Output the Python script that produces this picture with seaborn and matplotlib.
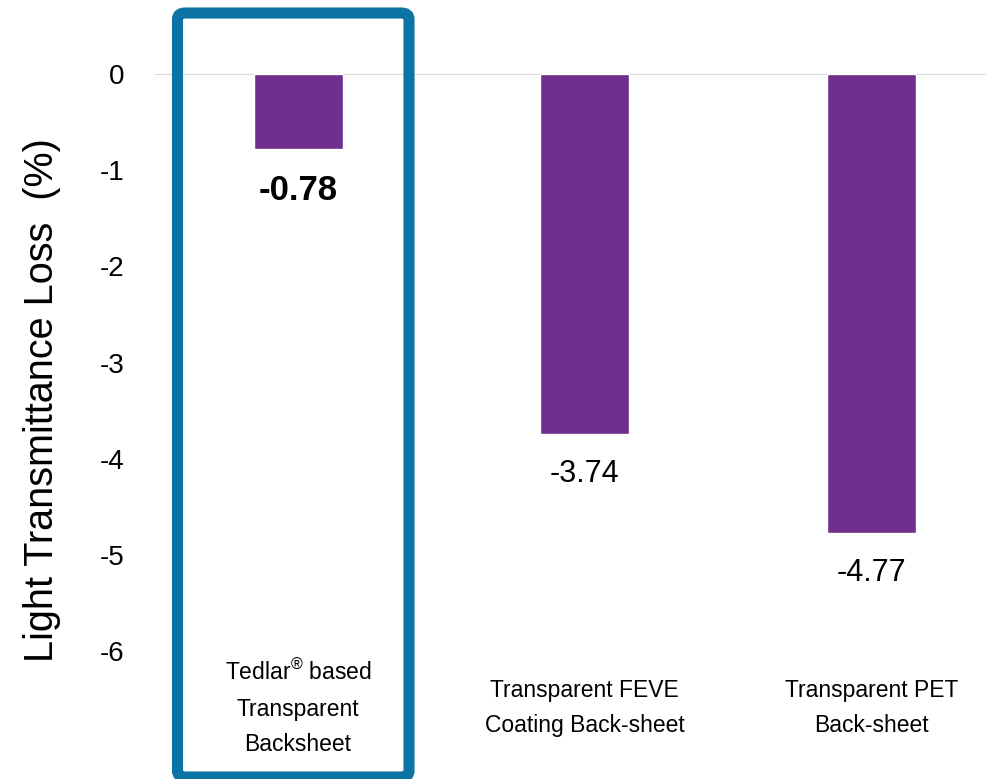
"""
light transmittance loss by backsheet type
"""
import matplotlib
matplotlib.use("Agg")
import matplotlib.pyplot as plt
from matplotlib.patches import FancyBboxPatch
import seaborn as sns
import pandas as pd

# data
categories = ["Tedlar$^{®}$ based\nTransparent\nBacksheet",
              "Transparent FEVE\nCoating Back-sheet",
              "Transparent PET\nBack-sheet"]
loss = [-0.78, -3.74, -4.77]
value_labels = ["-0.78", "-3.74", "-4.77"]
y_ticks = [0, -1, -2, -3, -4, -5, -6]

bar_color = "#6f2f8e"
box_color = "#0b74a5"

sns.set_style("white")
plt.rcParams['font.family'] = ['Liberation Sans', 'DejaVu Sans']
plt.rcParams['mathtext.fontset'] = 'custom'
plt.rcParams['mathtext.rm'] = 'Liberation Sans'
plt.rcParams['mathtext.default'] = 'regular'
for key in ['text.color', 'axes.labelcolor', 'xtick.color', 'ytick.color']:
    plt.rcParams[key] = 'black'

df = pd.DataFrame({"Backsheet": categories, "Loss": loss})

fig = plt.figure(figsize=(9.86, 7.79), dpi=100)
ax = fig.add_axes([0.157, 0.164, 0.843, 0.741])

sns.barplot(data=df, x="Backsheet", y="Loss", color=bar_color, width=0.31,
            saturation=1, ax=ax)

ax.set_xlim(-0.5, 2.4)
ax.set_ylim(-6, 0)
ax.set_yticks(y_ticks)
ax.set_yticklabels([str(t) for t in y_ticks], fontsize=20)
ax.tick_params(axis="y", length=0, pad=22)
ax.tick_params(axis="x", length=0, pad=41, labelsize=16.5)
for lbl in ax.get_xticklabels():
    lbl.set_va("center")
    lbl.set_linespacing(1.7)
ax.axhline(0, color="#d9d9d9", lw=1.5, zorder=0)
sns.despine(ax=ax, left=True, bottom=True)

ax.set_xlabel("")
ax.set_ylabel("Light Transmittance Loss  (%)", fontsize=28.5)
ax.yaxis.set_label_coords(-0.113, 0.435)

# value labels under each bar
for i, (v, txt) in enumerate(zip(loss, value_labels)):
    bold = i == 0
    ax.annotate(txt, (i, v), xytext=(0, -30 if bold else -29),
                textcoords="offset points", ha="center", va="center",
                fontsize=25 if bold else 22,
                fontweight="bold" if bold else "normal")

# highlight box around the Tedlar column
box = FancyBboxPatch((177.5 / 986, 2 / 779), (409 - 177.5) / 986, (766 - 2) / 779,
                     boxstyle="round,pad=0,rounding_size=0.008",
                     transform=fig.transFigure, fill=False,
                     edgecolor=box_color, linewidth=8, clip_on=False)
fig.patches.append(box)

fig.savefig("out.png", dpi=100)
